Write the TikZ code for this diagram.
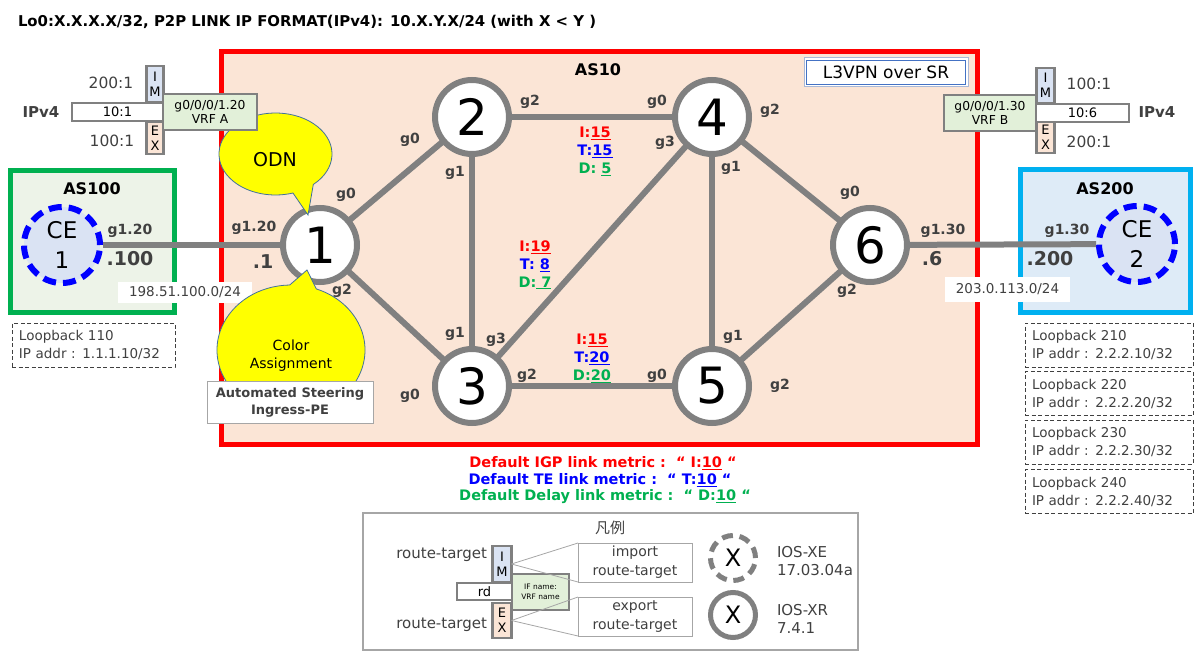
\documentclass[tikz,border=0pt]{standalone}
\usepackage{fontspec}
\setmainfont{DejaVu Sans}
\newfontfamily\cjk{Noto Sans CJK JP}
\usetikzlibrary{calc}
\newcommand\fsz[2]{\fontsize{#1}{#2}\selectfont}
\definecolor{asred}{HTML}{FF0000}
\definecolor{aspeach}{HTML}{FBE5D6}
\definecolor{rgray}{HTML}{808080}
\definecolor{lblgray}{HTML}{404040}
\definecolor{legendgray}{HTML}{A6A6A6}
\definecolor{asgreen}{HTML}{00B050}
\definecolor{asgreenfill}{HTML}{EDF3E8}
\definecolor{asblue}{HTML}{00B0F0}
\definecolor{asbluefill}{HTML}{DEEBF7}
\definecolor{cefill}{HTML}{DAE3F3}
\definecolor{imfill}{HTML}{DAE3F3}
\definecolor{exfill}{HTML}{FBE5D6}
\definecolor{vrffill}{HTML}{E2F0D9}
\definecolor{mred}{HTML}{FF0000}
\definecolor{mblue}{HTML}{0000FF}
\definecolor{mgreen}{HTML}{00B050}
\definecolor{calloutline}{HTML}{41719C}
\definecolor{l3line}{HTML}{4472C4}
\definecolor{l3outer}{HTML}{A9B8D6}
\definecolor{calloutfill}{HTML}{FFFF00}
\begin{document}
\begin{tikzpicture}[x=1pt,y=-1pt,
  every node/.style={inner sep=0pt,outer sep=0pt},
  link/.style={draw=rgray,line width=6pt},
  router/.style={circle,draw=rgray,line width=6pt,fill=white,minimum size=74pt,font=\fsz{50}{50}},
  cenode/.style={circle,draw=mblue,line width=6pt,dash pattern=on 13pt off 7pt,fill=cefill,minimum size=76pt,align=center,font=\fsz{23}{30}},
  ifl/.style={font=\bfseries\fsz{14}{16},text=lblgray},
  ipl/.style={font=\bfseries\fsz{19}{22},text=lblgray},
  mr/.style={font=\bfseries\fsz{14.5}{16},text=mred},
  mb/.style={font=\bfseries\fsz{14.5}{16},text=mblue},
  mg/.style={font=\bfseries\fsz{14.5}{16},text=mgreen},
  vbox/.style={draw=rgray,line width=2.5pt},
  rtlbl/.style={font=\fsz{15.5}{17},text=lblgray},
  lbbox/.style={draw=lblgray,line width=0.9pt,dash pattern=on 4pt off 2.5pt,align=left,inner xsep=7pt,minimum height=44pt,font=\fsz{13.5}{18},text=lblgray},
  callout/.style={fill=calloutfill,draw=calloutline,line width=0.8pt},
  subnet/.style={fill=white,font=\fsz{13.5}{15},text=lblgray},
  thinln/.style={draw=legendgray,line width=0.8pt}
]
\useasboundingbox (0,0) rectangle (1200,661);

% header
\node[anchor=west,font=\bfseries\fsz{14.9}{17}] (hdr) at (18,22) {Lo0:X.X.X.X/32, P2P LINK IP FORMAT(IPv4): 10.X.Y.X/24 (with X < Y )};

% AS10
\node[draw=asred,line width=5pt,fill=aspeach,minimum width=756pt,minimum height=393pt] (as10) at (599.5,248) {};
\node[font=\bfseries\fsz{16}{18}] (as10t) at (598,70) {AS10};
\node[draw=l3outer,line width=1pt,fill=white,minimum width=164pt,minimum height=29pt] (l3o) at (886,72.5) {};
\node[draw=l3line,line width=0.8pt,fill=white,minimum width=159pt,minimum height=24pt,font=\fsz{17}{19}] (l3) at (886,72.5) {L3VPN over SR};

% AS100 / AS200
\node[draw=asgreen,line width=5pt,fill=asgreenfill,minimum width=164pt,minimum height=142pt] (as100) at (92.5,241.5) {};
\node[font=\bfseries\fsz{16}{18}] (as100t) at (92,189) {AS100};
\node[draw=asblue,line width=5pt,fill=asbluefill,minimum width=170pt,minimum height=143pt] (as200) at (1105.5,241) {};
\node[font=\bfseries\fsz{16}{18}] (as200t) at (1105,189) {AS200};

% CEs and routers
\node[cenode] (ce1) at (62,245) {CE\\1};
\node[cenode] (ce2) at (1137,244) {CE\\2};
\node[router] (r1) at (320,245) {1};
\node[router] (r2) at (472,117) {2};
\node[router] (r4) at (712,117) {4};
\node[router] (r3) at (472,386) {3};
\node[router] (r5) at (712,386) {5};
\node[router] (r6) at (870,245) {6};

% links
\draw[link] (r1) -- (r2);
\draw[link] (r1) -- (r3);
\draw[link] (r2) -- (r4);
\draw[link] (r2) -- (r3);
\draw[link] (r3) -- (r5);
\draw[link] (r3) -- (r4);
\draw[link] (r4) -- (r5);
\draw[link] (r4) -- (r6);
\draw[link] (r5) -- (r6);
\draw[link,shorten <=3pt] (ce1) -- (r1);
\draw[link,shorten >=3pt] (r6) -- (ce2);

% subnets
\node[subnet,minimum width=134pt,minimum height=21pt] (sn1) at (185,292.5) {198.51.100.0/24};
\node[subnet,minimum width=125pt,minimum height=25pt] (sn2) at (1007.5,289.5) {203.0.113.0/24};

% interface labels
\node[ifl] (l1a) at (346,195) {g0};
\node[ifl] (l1b) at (254,228) {g1.20};
\node[ipl] (l1c) at (263,262) {.1};
\node[ifl] (l1d) at (342,291) {g2};
\node[ifl] (l2a) at (410,140) {g0};
\node[ifl] (l2b) at (455,173) {g1};
\node[ifl] (l2c) at (530,102) {g2};
\node[ifl] (l4a) at (657,102) {g0};
\node[ifl] (l4b) at (665,143) {g3};
\node[ifl] (l4c) at (731,168) {g1};
\node[ifl] (l4d) at (770,111) {g2};
\node[ifl] (l3a) at (455,334) {g1};
\node[ifl] (l3b) at (496,340) {g3};
\node[ifl] (l3c) at (527,376) {g2};
\node[ifl] (l3d) at (410,396) {g0};
\node[ifl] (l5a) at (657,376) {g0};
\node[ifl] (l5b) at (733,337) {g1};
\node[ifl] (l5c) at (780,386) {g2};
\node[ifl] (l6a) at (850,193) {g0};
\node[ifl] (l6b) at (847,291) {g2};
\node[ifl] (l6c) at (943,231) {g1.30};
\node[ipl] (l6d) at (932,259) {.6};
\node[ifl] (lc1a) at (130,231) {g1.20};
\node[ipl] (lc1b) at (130,259) {.100};
\node[ifl] (lc2a) at (1067,231) {g1.30};
\node[ipl] (lc2b) at (1050,259) {.200};

% metrics
\node[mr] (m1i) at (595,133) {I:\underline{15}};
\node[mb] (m1t) at (595,151) {T:\underline{15}};
\node[mg] (m1d) at (595,169) {D: \underline{5}};
\node[mr] (m2i) at (535,247) {I:\underline{19}};
\node[mb] (m2t) at (535,265) {T: \underline{8}};
\node[mg] (m2d) at (535,283) {D:\underline{\ 7}};
\node[mr] (m3i) at (592,340) {I:\underline{15}};
\node[mb] (m3t) at (592,358) {T:\underline{20}};
\node[mg] (m3d) at (592,376) {D:\underline{20}};

% callouts
\path[callout] ($(275.5,154)+(48:56.5 and 41)$) arc[start angle=48,end angle=-288,x radius=56.5,y radius=41] -- (308,215) -- cycle;
\node[font=\fsz{19}{21}] (odn) at (275,160) {ODN};
\path[callout] ($(291,350)+(-70:74 and 65)$) arc[start angle=-70,end angle=269,x radius=74,y radius=65] -- (307,270) -- cycle;
\node[font=\fsz{14}{18},align=center] (col) at (291,356) {Color\\Assignment};
\node[draw=legendgray,line width=1pt,fill=white,minimum width=166pt,minimum height=42pt,align=center,font=\bfseries\fsz{13}{17},text=lblgray] (ase) at (290,402) {Automated Steering\\Ingress-PE};

% VRF A
\node[vbox,fill=white,minimum width=91pt,minimum height=18pt,font=\fsz{13}{14}] (rdA) at (117.5,112) {10:1};
\node[vbox,fill=imfill,minimum width=17pt,minimum height=36pt,font=\fsz{13}{15},align=center] (imA) at (155,84) {I\\M};
\node[vbox,fill=exfill,minimum width=17pt,minimum height=32pt,font=\fsz{13}{15},align=center] (exA) at (155,138) {E\\X};
\node[vbox,fill=vrffill,minimum width=94pt,minimum height=36pt,font=\fsz{12.3}{13.5},align=center] (vrfA) at (210,112) {g0/0/0/1.20\\VRF A};
\node[rtlbl] (imAt) at (111,83) {200:1};
\node[rtlbl] (exAt) at (112,141) {100:1};
\node[font=\bfseries\fsz{15}{17},text=lblgray] (ipA) at (41,112) {IPv4};

% VRF B
\node[vbox,fill=white,minimum width=93pt,minimum height=18pt,font=\fsz{13}{14}] (rdB) at (1082.5,113) {10:6};
\node[vbox,fill=imfill,minimum width=18pt,minimum height=35pt,font=\fsz{13}{15},align=center] (imB) at (1045.5,85.5) {I\\M};
\node[vbox,fill=exfill,minimum width=18pt,minimum height=31pt,font=\fsz{13}{15},align=center] (exB) at (1045.5,137.5) {E\\X};
\node[vbox,fill=vrffill,minimum width=92pt,minimum height=36pt,font=\fsz{12.3}{13.5},align=center] (vrfB) at (990,113) {g0/0/0/1.30\\VRF B};
\node[rtlbl] (imBt) at (1089,84) {100:1};
\node[rtlbl] (exBt) at (1089,142) {200:1};
\node[font=\bfseries\fsz{15}{17},text=lblgray] (ipB) at (1157,112) {IPv4};

% loopbacks
\node[lbbox,text width=149pt] (lb110) at (93.5,345) {Loopback 110\\IP addr : 1.1.1.10/32};
\node[lbbox,text width=154pt] (lb210) at (1109,345) {Loopback 210\\IP addr : 2.2.2.10/32};
\node[lbbox,text width=154pt] (lb220) at (1109,393.5) {Loopback 220\\IP addr : 2.2.2.20/32};
\node[lbbox,text width=154pt] (lb230) at (1109,442) {Loopback 230\\IP addr : 2.2.2.30/32};
\node[lbbox,text width=154pt] (lb240) at (1109,491.5) {Loopback 240\\IP addr : 2.2.2.40/32};

% default metrics
\node[mr] (dm1) at (603,463) {Default IGP link metric :\ \ “ I:\underline{10} “};
\node[mb] (dm2) at (600,480) {Default TE link metric :\ \ “ T:\underline{10} “};
\node[mg] (dm3) at (605,497) {Default Delay link metric :\ \ “ D:\underline{10} “};

% legend
\node[draw=legendgray,line width=1.2pt,minimum width=495pt,minimum height=137pt] (leg) at (610.5,581.5) {};
\node[font=\cjk\fsz{15}{17},text=lblgray] (legt) at (610,528) {凡例};
\node[font=\fsz{15}{17},text=lblgray,anchor=east] (lrt1) at (487,555) {route-target};
\node[font=\fsz{15}{17},text=lblgray,anchor=east] (lrt2) at (487,625) {route-target};
\node[vbox,fill=white,minimum width=55pt,minimum height=17pt,font=\fsz{13}{15}] (rdL) at (484.5,591.5) {rd};
\node[vbox,fill=imfill,minimum width=19pt,minimum height=36pt,font=\fsz{13}{15},align=center] (imL) at (502,564) {I\\M};
\node[vbox,fill=exfill,minimum width=19pt,minimum height=35pt,font=\fsz{13}{15},align=center] (exL) at (502,620.5) {E\\X};
\node[vbox,fill=vrffill,minimum width=57pt,minimum height=36pt,font=\fsz{7.5}{10},align=center] (vrfL) at (540.5,592) {IF name:\\VRF name};
\node[draw=legendgray,line width=0.8pt,fill=white,minimum width=114pt,minimum height=39pt,align=center,font=\fsz{14}{19},text=lblgray] (imp) at (635,562.5) {import\\route-target};
\node[draw=legendgray,line width=0.8pt,fill=white,minimum width=114pt,minimum height=39pt,align=center,font=\fsz{14}{19},text=lblgray] (exp) at (635,616.5) {export\\route-target};
\draw[thinln] (imL.east) -- (imp.north west);
\draw[thinln] (imL.east) -- (imp.south west);
\draw[thinln] (exL.east) -- (exp.north west);
\draw[thinln] (exL.east) -- (exp.south west);
\node[circle,draw=rgray,line width=5pt,dash pattern=on 11pt off 6.7pt,fill=white,minimum size=45pt,font=\fsz{24}{24}] (xe) at (733,558) {X};
\node[circle,draw=rgray,line width=5pt,fill=white,minimum size=45pt,font=\fsz{24}{24}] (xr) at (733,615) {X};
\node[anchor=west,align=left,font=\fsz{15}{18},text=lblgray] (xet) at (777,561) {IOS-XE\\17.03.04a};
\node[anchor=west,align=left,font=\fsz{15}{18},text=lblgray] (xrt) at (777,619) {IOS-XR\\7.4.1};
\end{tikzpicture}
\end{document}
